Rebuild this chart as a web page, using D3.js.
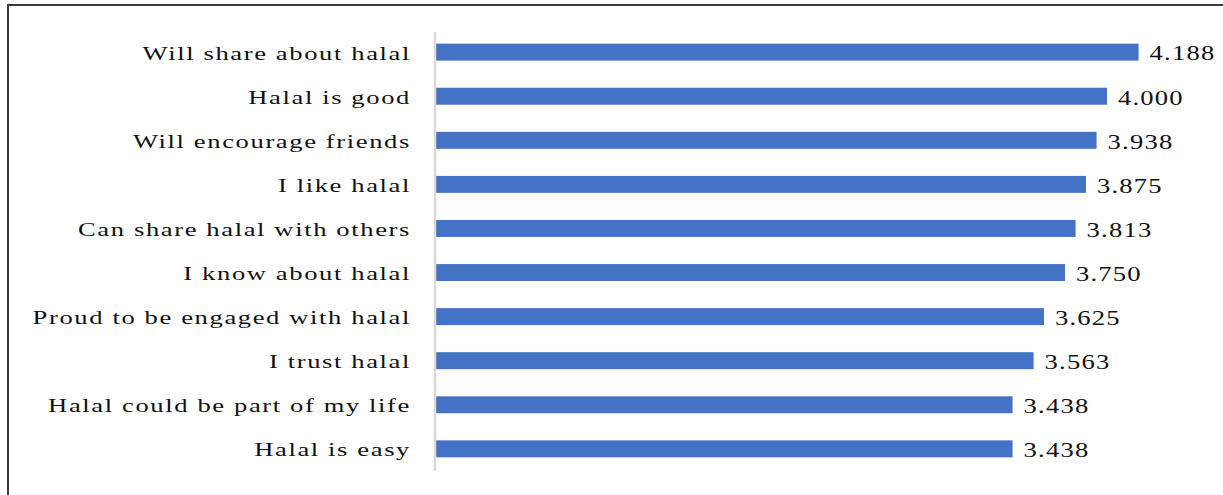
<!DOCTYPE html>
<html>
<head>
<meta charset="utf-8">
<script src="https://cdn.jsdelivr.net/npm/d3@7"></script>
<style>
  html, body { margin: 0; padding: 0; background: #fff; }
  svg { display: block; }
</style>
</head>
<body>
<svg id="chart" width="1223" height="495"></svg>
<script>
const categories = [
  "Will share about halal",
  "Halal is good",
  "Will encourage friends",
  "I like halal",
  "Can share halal with others",
  "I know about halal",
  "Proud to be engaged with halal",
  "I trust halal",
  "Halal could be part of my life",
  "Halal is easy"
];
const values = [4.188, 4.000, 3.938, 3.875, 3.813, 3.750, 3.625, 3.563, 3.438, 3.438];
const valueLabels = ["4.188", "4.000", "3.938", "3.875", "3.813", "3.750", "3.625", "3.563", "3.438", "3.438"];

const svg = d3.select("#chart");
const W = 1223, H = 495;

// frame
svg.append("line").attr("x1", 8).attr("x2", W).attr("y1", 5).attr("y2", 5)
  .attr("stroke", "#3a3a3a").attr("stroke-width", 2);
svg.append("line").attr("x1", 8).attr("x2", 8).attr("y1", 4).attr("y2", H)
  .attr("stroke", "#3a3a3a").attr("stroke-width", 2);

const x0 = 435;
const x = d3.scaleLinear().domain([0, 1]).range([x0, x0 + 168]);
const y = d3.scaleBand().domain(categories).range([30, 471]).paddingInner(0.615).paddingOuter(0.31);

// bars
svg.append("g").selectAll("rect").data(values).join("rect")
  .attr("x", x(0) + 1)
  .attr("y", (d, i) => y(categories[i]))
  .attr("width", d => x(d) - x(0) - 1)
  .attr("height", y.bandwidth())
  .attr("fill", "#4472C4");

// axis line
const axis = svg.append("g").attr("transform", `translate(${x0},0)`)
  .call(d3.axisLeft(y).tickSize(0).tickFormat(""));
axis.select(".domain").attr("stroke", "#d9d9d9").attr("stroke-width", 2.5)
  .attr("d", `M0,32V471`);

// category labels
svg.append("g").selectAll("text").data(categories).join("text")
  .attr("transform", d => `translate(411,${y(d) + y.bandwidth() / 2 + 1}) scale(1.4,1)`)
  .attr("text-anchor", "end")
  .attr("dominant-baseline", "central")
  .attr("font-family", "'Liberation Serif', 'Times New Roman', serif")
  .attr("font-size", 19)
  .attr("letter-spacing", 1.15)
  .attr("fill", "#111")
  .text(d => d);

// value labels
svg.append("g").selectAll("text").data(values).join("text")
  .attr("transform", (d, i) => `translate(${x(d) + 11},${y(categories[i]) + y.bandwidth() / 2 + 1.5}) scale(1.33,1)`)
  .attr("dominant-baseline", "central")
  .attr("font-family", "'Liberation Serif', 'Times New Roman', serif")
  .attr("font-size", 20)
  .attr("letter-spacing", 0.9)
  .attr("fill", "#111")
  .text((d, i) => valueLabels[i]);
</script>
</body>
</html>
